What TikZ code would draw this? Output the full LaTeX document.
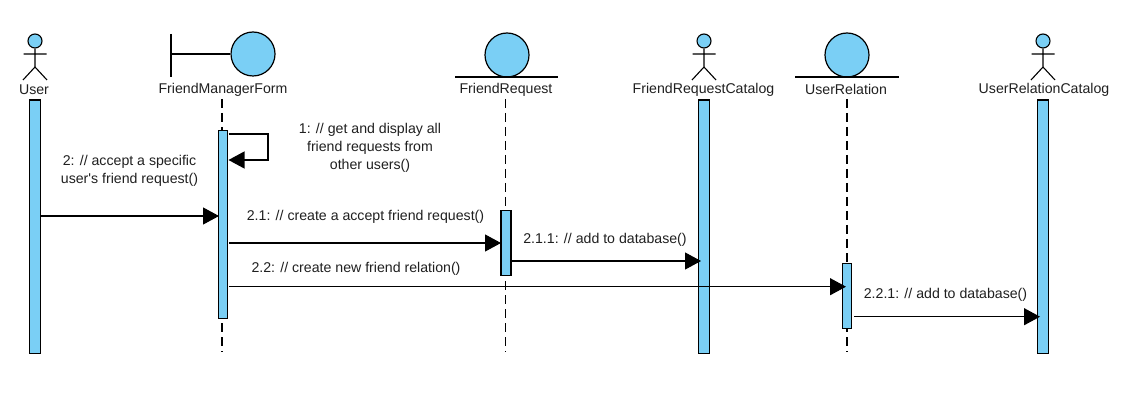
\documentclass[tikz,border=0pt]{standalone}
\usepackage{fontspec}
\setmainfont{Liberation Sans}
\usetikzlibrary{arrows.meta}
\definecolor{umlblue}{HTML}{7ACFF5}
\definecolor{umltext}{HTML}{202020}
\tikzset{
  x=1pt,y=-1pt,
  txt/.style={inner sep=0pt,text=umltext,font=\fontsize{14.15}{18}\selectfont,align=center},
  bar/.style={draw=black,line width=1.1pt,fill=umlblue,inner sep=0pt,anchor=north},
  ball/.style={draw=black,line width=1.2pt,fill=umlblue,circle,inner sep=0pt,minimum size=44pt},
  head/.style={draw=black,line width=1.1pt,fill=umlblue,circle,inner sep=0pt,minimum size=14pt},
  limb/.style={draw=black,line width=1.1pt},
  life/.style={draw=black,line width=1.15pt,dash pattern=on 9pt off 5pt},
  msg/.style={draw=black,line width=1.15pt,-{Triangle[length=16pt,width=17pt]}},
}
\newcommand{\stick}[2]{%
  \node[head] (#2h) at (#1,41) {};
  \coordinate (#2n) at (#1,48);
  \coordinate (#2w) at (#1,67);
  \coordinate (#2al) at (#1-11.5,54);
  \coordinate (#2ar) at (#1+11.5,54);
  \coordinate (#2ll) at (#1-12,80);
  \coordinate (#2lr) at (#1+12,80);
  \draw[limb] (#2h) -- (#2w) (#2al) -- (#2ar) (#2ll) -- (#2w) -- (#2lr);
}
\begin{document}
\begin{tikzpicture}
\useasboundingbox (0,0) rectangle (1131,403);
\fill[white] (0,0) rectangle (1131,403);

% lifelines
\coordinate (fmT) at (222,99); \coordinate (fmB) at (222,352);
\coordinate (frT) at (505.5,99); \coordinate (frB) at (505.5,352);
\coordinate (urT) at (847,99); \coordinate (urB) at (847,352);
\draw[life] (fmT) -- (fmB);
\draw[life] (frT) -- (frB);
\draw[life] (urT) -- (urB);

% actors and bars
\stick{35}{user}
\stick{704}{frc}
\stick{1043}{urc}
\node[bar,minimum width=11pt,minimum height=253.5pt] (userbar) at (35,99.5) {};
\node[bar,minimum width=11pt,minimum height=253.5pt] (frcbar) at (704,99.5) {};
\node[bar,minimum width=11pt,minimum height=253.5pt] (urcbar) at (1043,99.5) {};

% FriendManagerForm boundary
\node[ball] (fmc) at (253,54) {};
\coordinate (fmbt) at (171,34); \coordinate (fmbb) at (171,77); \coordinate (fmbm) at (171,54);
\draw[limb] (fmbt) -- (fmbb) (fmbm) -- (fmc);

% entities
\node[ball] (frc0) at (507,55) {};
\coordinate (frl) at (455,77); \coordinate (frr) at (558,77);
\draw[limb] (frl) -- (frr);
\node[ball] (urc0) at (847,55) {};
\coordinate (url) at (795,77); \coordinate (urr) at (899,77);
\draw[limb] (url) -- (urr);

% activations
\node[bar,minimum width=9pt,minimum height=188pt] (fmact) at (223,130) {};
\node[bar,minimum width=10pt,minimum height=65pt] (fract) at (506,210) {};
\node[bar,minimum width=9pt,minimum height=65pt] (uract) at (847,263) {};

% titles
\node[txt] (t1) at (34,89.5) {User};
\node[txt] (t2) at (223,89.5) {FriendManagerForm};
\node[txt] (t3) at (506,89.5) {FriendRequest};
\node[txt] (t4) at (703.5,89.5) {FriendRequestCatalog};
\node[txt] (t5) at (846,89.5) {UserRelation};
\node[txt] (t6) at (1044,89.5) {UserRelationCatalog};

% messages
\coordinate (m2a) at (40.5,216); \coordinate (m2b) at (219,216);
\draw[msg] (m2a) -- (m2b);
\coordinate (s1) at (228.5,134); \coordinate (s2) at (268,134); \coordinate (s3) at (268,160); \coordinate (s4) at (228.5,160);
\draw[msg] (s1) -- (s2) -- (s3) -- (s4);
\coordinate (m21a) at (229,243); \coordinate (m21b) at (501,243);
\draw[msg] (m21a) -- (m21b);
\coordinate (m211a) at (512,261); \coordinate (m211b) at (701,261);
\draw[msg] (m211a) -- (m211b);
\coordinate (m22a) at (229,286.7); \coordinate (m22b) at (846,286.7);
\draw[msg] (m22a) -- (m22b);
\coordinate (m221a) at (854,316.7); \coordinate (m221b) at (1040,316.7);
\draw[msg] (m221a) -- (m221b);

% labels
\node[txt] (l1) at (370,147.5) {1: // get and display all\\friend requests from\\other users()};
\node[txt] (l2) at (129.5,170.5) {2: // accept a specific\\user\textquotesingle s friend request()};
\node[txt] (l3) at (365.5,217) {2.1: // create a accept friend request()};
\node[txt] (l4) at (605,240) {2.1.1: // add to database()};
\node[txt] (l5) at (356,268.5) {2.2: // create new friend relation()};
\node[txt] (l6) at (945.5,294.5) {2.2.1: // add to database()};
\end{tikzpicture}
\end{document}
